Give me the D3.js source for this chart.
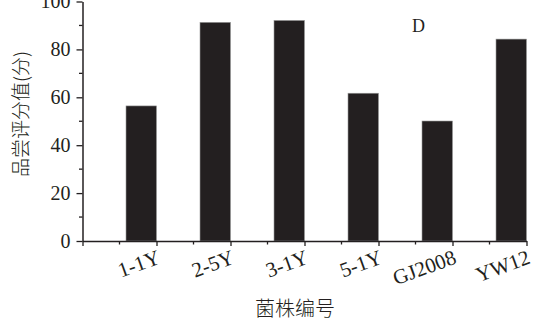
<!DOCTYPE html>
<html>
<head>
<meta charset="utf-8">
<script src="https://cdn.jsdelivr.net/npm/d3@7"></script>
<style>
  html, body { margin: 0; padding: 0; background: #fff; }
  svg { display: block; }
</style>
</head>
<body>
<svg id="chart" width="535" height="333"></svg>
<script>
// Tasting scores per strain
const categories = ["1-1Y", "2-5Y", "3-1Y", "5-1Y", "GJ2008", "YW12"];
const scores = [56.4, 91.3, 92.1, 61.7, 50.1, 84.3];
const yTicks = [0, 20, 40, 60, 80, 100];
const yMinorTicks = [10, 30, 50, 70, 90];
const panelLabel = "D";
const xTitle = "菌株编号";
const yTitle = "品尝评分值(分)";

const ink = "#231f20";
const serif = "'Liberation Serif', 'DejaVu Serif', serif";
const cjk = "'Noto Sans CJK SC', sans-serif";

const svg = d3.select("#chart");

const y = d3.scaleLinear().domain([0, 100]).range([241, 1.5]);
// index 0 is the axis origin, categories sit on positions 1..6
const x = d3.scaleLinear().domain([0, categories.length]).range([82.5, 526.5]);
const barWidth = 30.5;

// bars, right edge aligned with the category tick
svg.append("g").selectAll("rect")
  .data(scores)
  .join("rect")
  .attr("x", (d, i) => x(i + 1) - barWidth)
  .attr("y", d => y(d))
  .attr("width", barWidth)
  .attr("height", d => y(0) - y(d))
  .attr("fill", ink)
  .attr("stroke", "#9a9a9a")
  .attr("stroke-width", 0.6);

// y axis
const yAxis = svg.append("g")
  .attr("transform", `translate(${x(0)},0)`)
  .call(d3.axisLeft(y).tickValues(yTicks).tickSize(6).tickPadding(6).tickSizeOuter(0));
yAxis.append("g").selectAll("line")
  .data(yMinorTicks)
  .join("line")
  .attr("x1", -3.5).attr("x2", 0)
  .attr("y1", d => y(d)).attr("y2", d => y(d))
  .attr("stroke", ink).attr("stroke-width", 1.3);
yAxis.selectAll(".tick text")
  .attr("font-family", serif).attr("font-size", 20).attr("fill", ink);

// x axis
const xAxis = svg.append("g")
  .attr("transform", `translate(0,${y(0)})`)
  .call(d3.axisBottom(x).tickValues(d3.range(0, categories.length + 1))
    .tickSize(5).tickSizeOuter(0).tickFormat(() => ""));
xAxis.append("g").selectAll("line")
  .data(d3.range(0.5, categories.length, 1))
  .join("line")
  .attr("x1", d => x(d)).attr("x2", d => x(d))
  .attr("y1", 0).attr("y2", 3.5)
  .attr("stroke", ink).attr("stroke-width", 1.3);

// rotated category labels
svg.append("g").selectAll("text")
  .data(categories)
  .join("text")
  .attr("transform", (d, i) => `translate(${x(i + 1) + 5},${y(0) + 22}) rotate(-20)`)
  .attr("text-anchor", "end")
  .attr("font-family", serif)
  .attr("font-size", 21)
  .attr("fill", ink)
  .text(d => d);

[yAxis, xAxis].forEach(g => {
  g.select(".domain").attr("stroke", ink).attr("stroke-width", 1.5);
  g.selectAll(".tick line").attr("stroke", ink).attr("stroke-width", 1.3);
});

// titles
svg.append("text")
  .attr("x", 295).attr("y", 316)
  .attr("text-anchor", "middle")
  .attr("font-family", cjk).attr("font-size", 20).attr("font-weight", 300)
  .attr("fill", ink)
  .text(xTitle);

svg.append("text")
  .attr("transform", `translate(28,114) rotate(-90)`)
  .attr("text-anchor", "middle")
  .attr("font-family", cjk).attr("font-size", 19).attr("font-weight", 300)
  .attr("fill", ink)
  .text(yTitle);

svg.append("text")
  .attr("x", 412).attr("y", 32)
  .attr("font-family", serif).attr("font-size", 18)
  .attr("fill", ink)
  .text(panelLabel);
</script>
</body>
</html>
